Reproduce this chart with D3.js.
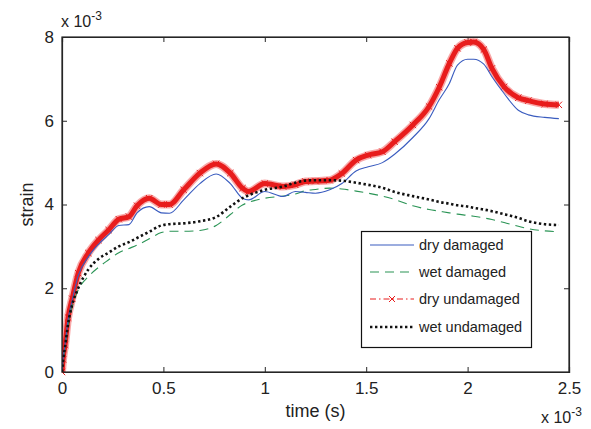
<!DOCTYPE html>
<html><head><meta charset="utf-8">
<script src="https://cdn.jsdelivr.net/npm/d3@7"></script>
<style>body{margin:0;background:#fff}text{font-family:"Liberation Sans",Arial,sans-serif;fill:#222}</style>
</head><body><svg id="c" width="591" height="429"></svg>
<script>
// time in units of 1e-3 s, strain in units of 1e-3
const time = [0,0.005,0.015,0.03,0.05,0.08,0.13,0.18,0.23,0.28,0.33,0.37,0.43,0.49,0.53,0.6,0.68,0.76,0.83,0.89,0.92,1.0,1.09,1.15,1.2,1.25,1.32,1.38,1.45,1.51,1.58,1.64,1.73,1.81,1.86,1.91,1.95,2.0,2.03,2.08,2.12,2.18,2.25,2.3,2.38,2.45];
const dryDamaged = [0,0.3,0.65,1.25,1.7,2.3,2.75,3.05,3.28,3.5,3.52,3.8,3.95,3.8,3.79,4.11,4.5,4.73,4.5,4.15,4.11,4.31,4.19,4.31,4.29,4.27,4.35,4.5,4.8,4.9,5.0,5.2,5.6,6.05,6.5,6.89,7.33,7.47,7.47,7.35,7.05,6.65,6.25,6.14,6.08,6.05];
const wetDamaged = [0,0.25,0.6,1.1,1.55,1.96,2.28,2.5,2.68,2.85,2.95,3.03,3.18,3.33,3.36,3.36,3.38,3.5,3.76,3.99,4.05,4.15,4.2,4.25,4.33,4.36,4.39,4.37,4.32,4.27,4.2,4.12,3.97,3.88,3.84,3.8,3.77,3.74,3.72,3.68,3.64,3.57,3.48,3.42,3.37,3.35];
const dryUndamaged = [0,0.3,0.65,1.3,1.75,2.36,2.84,3.15,3.39,3.65,3.71,3.97,4.15,4.0,4.0,4.35,4.75,4.97,4.75,4.39,4.31,4.5,4.43,4.47,4.55,4.56,4.58,4.74,5.06,5.18,5.26,5.5,5.9,6.34,6.8,7.37,7.73,7.87,7.88,7.7,7.25,6.81,6.55,6.48,6.4,6.38];
const wetUndamaged = [0,0.25,0.6,1.15,1.6,2.0,2.45,2.7,2.85,3.0,3.1,3.2,3.35,3.5,3.53,3.55,3.6,3.7,3.95,4.15,4.22,4.35,4.43,4.52,4.57,4.58,4.58,4.57,4.52,4.47,4.4,4.3,4.2,4.12,4.06,4.02,3.98,3.95,3.92,3.88,3.84,3.77,3.68,3.6,3.53,3.51];
const xTicks = [0,0.5,1,1.5,2,2.5];
const yTicks = [0,2,4,6,8];
const seriesNames = ["dry damaged","wet damaged","dry undamaged","wet undamaged"];

const svg = d3.select("#c");
const L=62, R=569, T=37, B=372;
const x = d3.scaleLinear().domain([0,2.5]).range([L,R]);
const y = d3.scaleLinear().domain([0,8]).range([B,T]);
const axisCol = "#262626";

// axes with inward ticks
const gx = svg.append("g").attr("transform",`translate(0,${B})`)
  .call(d3.axisBottom(x).tickValues(xTicks).tickSize(-5).tickPadding(10).tickFormat(d=>d));
const gxt = svg.append("g").attr("transform",`translate(0,${T})`)
  .call(d3.axisTop(x).tickValues(xTicks).tickSize(-5).tickFormat(""));
const gy = svg.append("g").attr("transform",`translate(${L},0)`)
  .call(d3.axisLeft(y).tickValues(yTicks).tickSize(-5).tickPadding(8).tickFormat(d=>d));
const gyr = svg.append("g").attr("transform",`translate(${R},0)`)
  .call(d3.axisRight(y).tickValues(yTicks).tickSize(-5).tickFormat(""));
[gx,gxt,gy,gyr].forEach(g=>{
  g.selectAll("path").attr("stroke",axisCol).attr("stroke-width",1.2);
  g.selectAll("line").attr("stroke",axisCol);
  g.selectAll("text").style("font-family",'"Liberation Sans",Arial,sans-serif').style("font-size","17px").attr("fill","#222");
});

const clip = svg.append("defs").append("clipPath").attr("id","cp").append("rect")
  .attr("x",L).attr("y",T-6).attr("width",R-L).attr("height",B-T+12);
const plot = svg.append("g").attr("clip-path","url(#cp)");
const line = vals => d3.line().x((d,i)=>x(time[i])).y((d,i)=>y(vals[i])).curve(d3.curveMonotoneX)(vals);

// dry undamaged: thick band of x markers
plot.append("path").attr("d",line(dryUndamaged)).attr("fill","none")
  .attr("stroke","#f26060").attr("stroke-width",8).attr("stroke-opacity",0.55);
plot.append("path").attr("d",line(dryUndamaged)).attr("fill","none")
  .attr("stroke","#e81c1c").attr("stroke-width",5);
const mk = (g,cx,cy,s,col,w)=>g.append("path")
  .attr("d",`M${cx-s},${cy-s}L${cx+s},${cy+s}M${cx-s},${cy+s}L${cx+s},${cy-s}`)
  .attr("stroke",col).attr("stroke-width",w).attr("fill","none");
dryUndamaged.forEach((v,i)=>mk(plot,x(time[i]),y(v),3.2,"#e81c1c",1));

plot.append("path").attr("d",line(wetDamaged)).attr("fill","none")
  .attr("stroke","#2a9455").attr("stroke-width",1.1).attr("stroke-dasharray","9,6");
plot.append("path").attr("d",line(dryDamaged)).attr("fill","none")
  .attr("stroke","#3a5cbf").attr("stroke-width",1.1);
plot.append("path").attr("d",line(wetUndamaged)).attr("fill","none")
  .attr("stroke","#111").attr("stroke-width",2.6).attr("stroke-dasharray","2.4,2.6");

// frame on top
svg.append("rect").attr("x",L).attr("y",T).attr("width",R-L).attr("height",B-T)
  .attr("fill","none").attr("stroke",axisCol).attr("stroke-width",1.2);

// exponent labels
const expo = (tx,ty)=>{
  const t = svg.append("text").attr("x",tx).attr("y",ty).style("font-size","16px");
  t.append("tspan").text("x 10");
  t.append("tspan").attr("dy",-7).style("font-size","12px").text("-3");
};
expo(61,27);
expo(541,423);

// axis labels
svg.append("text").attr("x",(L+R)/2).attr("y",417).attr("text-anchor","middle").style("font-size","18px").text("time (s)");
svg.append("text").attr("transform",`translate(33,${(T+B)/2}) rotate(-90)`).attr("text-anchor","middle").style("font-size","18px").text("strain");

// legend
const lg = svg.append("g");
lg.append("rect").attr("x",361.5).attr("y",231.5).attr("width",170).attr("height",116)
  .attr("fill","#fff").attr("stroke","#111").attr("stroke-width",1.2);
const rows = [245,272,299,327];
const styles = [
  {c:"#3a5cbf",w:1.1,d:null},
  {c:"#2a9455",w:1.1,d:"9,6"},
  {c:"#e81c1c",w:1,d:"6,3,1.5,3"},
  {c:"#111",w:2.6,d:"2.4,2.6"}
];
seriesNames.forEach((n,i)=>{
  const s = styles[i];
  const ln = lg.append("line").attr("x1",370).attr("x2",414).attr("y1",rows[i]).attr("y2",rows[i])
    .attr("stroke",s.c).attr("stroke-width",s.w);
  if(s.d) ln.attr("stroke-dasharray",s.d);
  if(i===2) mk(lg,392,rows[i],3,"#e81c1c",1);
  lg.append("text").attr("x",419).attr("y",rows[i]+5).style("font-size","14.5px").text(n);
});
</script></body></html>
